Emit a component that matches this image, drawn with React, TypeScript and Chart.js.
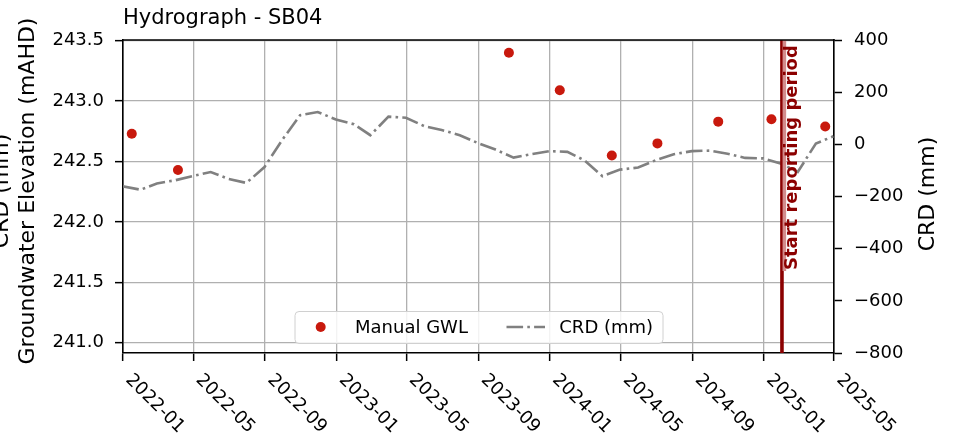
import React, { useEffect, useRef } from 'react';
import { Chart, registerables } from 'chart.js';

Chart.register(...registerables);

const BASE = Date.UTC(2022, 0, 1);
const dayIndex = (s: string) => {
  const [y, m, d] = s.split('-').map(Number);
  return (Date.UTC(y, m - 1, d) - BASE) / 86400000;
};

const titleText = 'Hydrograph - SB04';
const leftTitleLines = ['CRD (mm)', 'Groundwater Elevation (mAHD)'];
const rightTitle = 'CRD (mm)';
const reportLabel = 'Start reporting period';
const reportStart = '2025-02-01';
const xStart = '2022-01-01';
const xEnd = '2025-05-01';

const xTickLabels = ['2022-01', '2022-05', '2022-09', '2023-01', '2023-05', '2023-09', '2024-01', '2024-05', '2024-09', '2025-01', '2025-05'];
const leftTicks = [241.0, 241.5, 242.0, 242.5, 243.0, 243.5];
const rightTicks = [-800, -600, -400, -200, 0, 200, 400];

const gwlDates = ['2022-01-16', '2022-04-05', '2023-10-23', '2024-01-18', '2024-04-16', '2024-07-03', '2024-10-15', '2025-01-14', '2025-04-16'];
const gwlValues = [242.73, 242.43, 243.40, 243.09, 242.55, 242.65, 242.83, 242.85, 242.79];

const crdDates = [
  '2021-12-31', '2022-01-31', '2022-02-28', '2022-03-31', '2022-04-30', '2022-05-31', '2022-06-30', '2022-07-31',
  '2022-08-31', '2022-09-30', '2022-10-31', '2022-11-30', '2022-12-31', '2023-01-31', '2023-02-28', '2023-03-31',
  '2023-04-30', '2023-05-31', '2023-06-30', '2023-07-31', '2023-08-31', '2023-09-30', '2023-10-31', '2023-11-30',
  '2023-12-31', '2024-01-31', '2024-02-29', '2024-03-31', '2024-04-30', '2024-05-31', '2024-06-30', '2024-07-31',
  '2024-08-31', '2024-09-30', '2024-10-31', '2024-11-30', '2024-12-31', '2025-01-31', '2025-02-28', '2025-03-31',
  '2025-04-30',
];
const crdValues = [
  -161, -174, -150, -138, -122, -106, -132, -148,
  -87, 16, 112, 124, 95, 77, 35, 106,
  102, 70, 55, 35, 5, -20, -51, -38,
  -26, -29, -61, -122, -97, -89, -61, -38,
  -26, -24, -36, -52, -54, -74, -106, 3,
  31,
];

const RED = '#c8190d';
const GRAY = '#808080';
const DARKRED = '#8b0000';
const FONT = 'DejaVu Sans';
const DASH = [16.6, 4.2, 2.6, 4.2];

const overlayPlugin = {
  id: 'overlay',
  afterDatasetsDraw(chart: any) {
    const { ctx, chartArea } = chart;
    const { top, bottom } = chartArea;
    const vx = chart.scales.x.getPixelForValue(dayIndex(reportStart));
    ctx.save();
    ctx.strokeStyle = DARKRED;
    ctx.lineWidth = 3.6;
    ctx.beginPath();
    ctx.moveTo(vx, top);
    ctx.lineTo(vx, bottom);
    ctx.stroke();
    ctx.fillStyle = '#d38c8c';
    ctx.fillRect(vx + 0.6, top, 3.6, 231);
    ctx.translate(vx + 15.5, top + 230);
    ctx.rotate(-Math.PI / 2);
    ctx.fillStyle = DARKRED;
    ctx.font = `bold 18px "${FONT}"`;
    ctx.textAlign = 'left';
    ctx.textBaseline = 'alphabetic';
    ctx.fillText(reportLabel, 0, 0);
    ctx.restore();
  },
  afterDraw(chart: any) {
    const { ctx, chartArea } = chart;
    const { left, right, top, bottom } = chartArea;
    ctx.save();
    // top spine
    ctx.strokeStyle = '#000';
    ctx.lineWidth = 1.6;
    ctx.beginPath();
    ctx.moveTo(left - 0.8, top);
    ctx.lineTo(right + 0.8, top);
    ctx.stroke();

    // title
    ctx.fillStyle = '#000';
    ctx.font = `21px "${FONT}"`;
    ctx.textAlign = 'left';
    ctx.textBaseline = 'alphabetic';
    ctx.fillText(titleText, left, 23.5);

    // x tick labels
    ctx.font = `18px "${FONT}"`;
    const xs = chart.scales.x;
    xTickLabels.forEach((lab) => {
      const px = xs.getPixelForValue(dayIndex(lab + '-01'));
      ctx.save();
      ctx.translate(px + 2, bottom + 27.5);
      ctx.rotate(Math.PI / 4);
      ctx.textAlign = 'left';
      ctx.textBaseline = 'alphabetic';
      ctx.fillText(lab, 0, 0);
      ctx.restore();
    });

    // left axis titles
    ctx.font = `22px "${FONT}"`;
    const cy = 191;
    ctx.save();
    ctx.translate(8, cy);
    ctx.rotate(-Math.PI / 2);
    ctx.textAlign = 'center';
    ctx.fillText(leftTitleLines[0], 0, 0);
    ctx.restore();
    ctx.save();
    ctx.translate(34, cy);
    ctx.rotate(-Math.PI / 2);
    ctx.textAlign = 'center';
    ctx.fillText(leftTitleLines[1], 0, 0);
    ctx.restore();
    // right axis title
    ctx.save();
    ctx.translate(934, 194);
    ctx.rotate(-Math.PI / 2);
    ctx.textAlign = 'center';
    ctx.fillText(rightTitle, 0, 0);
    ctx.restore();

    // legend
    const lx = 295, ly = 311.5, lw = 368, lh = 32;
    ctx.beginPath();
    if ((ctx as any).roundRect) (ctx as any).roundRect(lx, ly, lw, lh, 4);
    else ctx.rect(lx, ly, lw, lh);
    ctx.fillStyle = 'rgba(255,255,255,0.85)';
    ctx.fill();
    ctx.strokeStyle = '#d0d0d0';
    ctx.lineWidth = 1;
    ctx.stroke();
    const my = ly + 15.5;
    ctx.fillStyle = RED;
    ctx.beginPath();
    ctx.arc(320.7, my, 5, 0, Math.PI * 2);
    ctx.fill();
    ctx.fillStyle = '#000';
    ctx.font = `18px "${FONT}"`;
    ctx.textAlign = 'left';
    ctx.textBaseline = 'middle';
    ctx.fillText(gwlLegend, 355, my + 1);
    ctx.strokeStyle = GRAY;
    ctx.lineWidth = 2.6;
    ctx.setLineDash(DASH);
    ctx.beginPath();
    ctx.moveTo(506.5, my);
    ctx.lineTo(545, my);
    ctx.stroke();
    ctx.setLineDash([]);
    ctx.fillText(crdLegend, 559.3, my + 1);
    ctx.restore();
  },
};

const gwlLegend = 'Manual GWL';
const crdLegend = 'CRD (mm)';

export default function App() {
  const ref = useRef<HTMLCanvasElement | null>(null);
  useEffect(() => {
    if (!ref.current) return;
    const tickFont = { family: FONT, size: 18 };
    const chart = new Chart(ref.current, {
      type: 'scatter',
      data: {
        datasets: [
          {
            label: crdLegend,
            data: crdDates.map((d, i) => ({ x: dayIndex(d), y: crdValues[i] })),
            yAxisID: 'y1',
            showLine: true,
            borderColor: GRAY,
            backgroundColor: GRAY,
            borderWidth: 2.6,
            borderDash: DASH,
            pointRadius: 0,
            pointHoverRadius: 0,
            tension: 0,
            fill: false,
          } as any,
          {
            label: gwlLegend,
            data: gwlDates.map((d, i) => ({ x: dayIndex(d), y: gwlValues[i] })),
            yAxisID: 'y',
            pointRadius: 5,
            pointBorderWidth: 0,
            backgroundColor: RED,
            borderColor: RED,
          } as any,
        ],
      },
      options: {
        animation: false,
        responsive: false,
        events: [],
        layout: { padding: { top: 40, left: 0, right: 0, bottom: 0 } },
        plugins: { legend: { display: false }, tooltip: { enabled: false }, title: { display: false } },
        scales: {
          x: {
            type: 'linear',
            position: 'bottom',
            min: dayIndex(xStart),
            max: dayIndex(xEnd),
            afterBuildTicks: (s: any) => {
              s.ticks = xTickLabels.map((l) => ({ value: dayIndex(l + '-01') }));
            },
            afterFit: (s: any) => { s.height = 90; },
            ticks: { display: false },
            grid: { color: '#b0b0b0', lineWidth: 1.3, tickLength: 8, tickColor: '#000', tickWidth: 1.5 },
            border: { color: '#000', width: 1.6 },
          },
          y: {
            type: 'linear',
            position: 'left',
            min: 240.9145,
            max: 243.506,
            afterBuildTicks: (s: any) => { s.ticks = leftTicks.map((v) => ({ value: v })); },
            afterFit: (s: any) => { s.width = 123; },
            ticks: { font: tickFont, color: '#000', padding: 11, callback: (v: any) => Number(v).toFixed(1) },
            grid: { color: '#b0b0b0', lineWidth: 1.3, tickLength: 8, tickColor: '#000', tickWidth: 1.5 },
            border: { color: '#000', width: 1.6 },
          },
          y1: {
            type: 'linear',
            position: 'right',
            min: -800,
            max: 400,
            afterBuildTicks: (s: any) => { s.ticks = rightTicks.map((v) => ({ value: v })); },
            afterFit: (s: any) => { s.width = 121; },
            ticks: { font: tickFont, color: '#000', padding: 12, callback: (v: any) => String(v).replace('-', '\u2212') },
            grid: { drawOnChartArea: false, tickLength: 8, tickColor: '#000', tickWidth: 1.5 },
            border: { color: '#000', width: 1.6 },
          },
        },
      } as any,
      plugins: [overlayPlugin],
    });
    return () => chart.destroy();
  }, []);
  return (
    <div style={{ position: 'absolute', left: 0, top: 0, width: 955, height: 443, background: '#fff' }}>
      <canvas ref={ref} width={955} height={443} style={{ display: 'block' }} />
    </div>
  );
}
